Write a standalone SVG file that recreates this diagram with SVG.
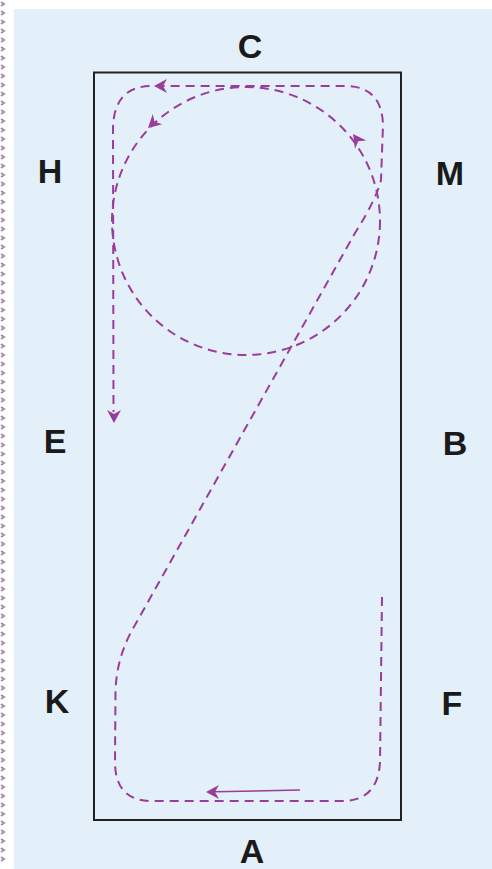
<svg xmlns="http://www.w3.org/2000/svg" width="492" height="869" viewBox="0 0 492 869">
<style>
.lbl{font-family:"Liberation Sans",Arial,sans-serif;font-weight:bold;font-size:34px;fill:#1a1a1a;text-anchor:middle}
.route{fill:none;stroke:#9a3c9a;stroke-width:2;stroke-dasharray:9 6}
.solid{fill:none;stroke:#9a3c9a;stroke-width:1.6}
.head{fill:#9a3c9a}
</style>
<defs>
<path id="ah" d="M0 0 L-13 -7 L-9 0 L-13 7 Z"/>
</defs>
<rect x="0" y="0" width="492" height="869" fill="#ffffff"/>
<rect x="14" y="9" width="478" height="860" fill="#e3f0f9"/>
<path d="M1 2 L4 4 L1 6 M1 11 L4 13 L1 15 M1 20 L4 22 L1 24 M1 29 L4 31 L1 33 M1 38 L4 40 L1 42 M1 47 L4 49 L1 51 M1 56 L4 58 L1 60 M1 65 L4 67 L1 69 M1 74 L4 76 L1 78 M1 83 L4 85 L1 87 M1 92 L4 94 L1 96 M1 101 L4 103 L1 105 M1 110 L4 112 L1 114 M1 119 L4 121 L1 123 M1 128 L4 130 L1 132 M1 137 L4 139 L1 141 M1 146 L4 148 L1 150 M1 155 L4 157 L1 159 M1 164 L4 166 L1 168 M1 173 L4 175 L1 177 M1 182 L4 184 L1 186 M1 191 L4 193 L1 195 M1 200 L4 202 L1 204 M1 209 L4 211 L1 213 M1 218 L4 220 L1 222 M1 227 L4 229 L1 231 M1 236 L4 238 L1 240 M1 245 L4 247 L1 249 M1 254 L4 256 L1 258 M1 263 L4 265 L1 267 M1 272 L4 274 L1 276 M1 281 L4 283 L1 285 M1 290 L4 292 L1 294 M1 299 L4 301 L1 303 M1 308 L4 310 L1 312 M1 317 L4 319 L1 321 M1 326 L4 328 L1 330 M1 335 L4 337 L1 339 M1 344 L4 346 L1 348 M1 353 L4 355 L1 357 M1 362 L4 364 L1 366 M1 371 L4 373 L1 375 M1 380 L4 382 L1 384 M1 389 L4 391 L1 393 M1 398 L4 400 L1 402 M1 407 L4 409 L1 411 M1 416 L4 418 L1 420 M1 425 L4 427 L1 429 M1 434 L4 436 L1 438 M1 443 L4 445 L1 447 M1 452 L4 454 L1 456 M1 461 L4 463 L1 465 M1 470 L4 472 L1 474 M1 479 L4 481 L1 483 M1 488 L4 490 L1 492 M1 497 L4 499 L1 501 M1 506 L4 508 L1 510 M1 515 L4 517 L1 519 M1 524 L4 526 L1 528 M1 533 L4 535 L1 537 M1 542 L4 544 L1 546 M1 551 L4 553 L1 555 M1 560 L4 562 L1 564 M1 569 L4 571 L1 573 M1 578 L4 580 L1 582 M1 587 L4 589 L1 591 M1 596 L4 598 L1 600 M1 605 L4 607 L1 609 M1 614 L4 616 L1 618 M1 623 L4 625 L1 627 M1 632 L4 634 L1 636 M1 641 L4 643 L1 645 M1 650 L4 652 L1 654 M1 659 L4 661 L1 663 M1 668 L4 670 L1 672 M1 677 L4 679 L1 681 M1 686 L4 688 L1 690 M1 695 L4 697 L1 699 M1 704 L4 706 L1 708 M1 713 L4 715 L1 717 M1 722 L4 724 L1 726 M1 731 L4 733 L1 735 M1 740 L4 742 L1 744 M1 749 L4 751 L1 753 M1 758 L4 760 L1 762 M1 767 L4 769 L1 771 M1 776 L4 778 L1 780 M1 785 L4 787 L1 789 M1 794 L4 796 L1 798 M1 803 L4 805 L1 807 M1 812 L4 814 L1 816 M1 821 L4 823 L1 825 M1 830 L4 832 L1 834 M1 839 L4 841 L1 843 M1 848 L4 850 L1 852 M1 857 L4 859 L1 861" fill="none" stroke="#a890a4" stroke-width="2"/>

<g id="arena"><rect x="94" y="72.5" width="307" height="747.5" fill="none" stroke="#222" stroke-width="2"/></g>

<g id="C"><text class="lbl" x="250" y="58">C</text></g>
<g id="H"><text class="lbl" x="50" y="183">H</text></g>
<g id="M"><text class="lbl" x="450" y="185">M</text></g>
<g id="E"><text class="lbl" x="55" y="453">E</text></g>
<g id="B"><text class="lbl" x="455" y="455">B</text></g>
<g id="K"><text class="lbl" x="57" y="713">K</text></g>
<g id="F"><text class="lbl" x="452" y="715">F</text></g>
<g id="A"><text class="lbl" x="252" y="863">A</text></g>

<g id="connectors">
<circle class="route" cx="246" cy="221" r="134"/>
<path class="route" d="M382 597 L380 762 Q378 801 342 801 L152 801 Q115 801 115 762 L115.5 690 Q117 655 135 625 L355 233 Q376 200 381 180 L383 125 Q382 86 345 86 L152 86 Q113 86 113 130 L113.5 412"/>
<path class="solid" d="M300 790 L215 791.8"/>
<use href="#ah" class="head" transform="translate(206,792) rotate(180)"/>
<use href="#ah" class="head" transform="translate(154,86) rotate(180)"/>
<use href="#ah" class="head" transform="translate(114,423) rotate(90)"/>
<use href="#ah" class="head" transform="translate(148,128) rotate(137)"/>
<use href="#ah" class="head" transform="translate(353,134) rotate(-126)"/>
</g>
</svg>
